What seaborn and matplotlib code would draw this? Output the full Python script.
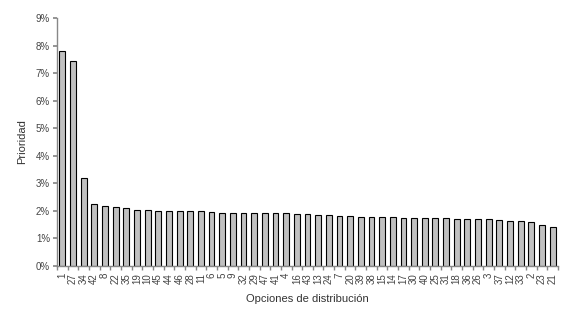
import matplotlib
matplotlib.use("Agg")
import matplotlib.pyplot as plt
import seaborn as sns
import pandas as pd
import numpy as np
from matplotlib.ticker import PercentFormatter, MultipleLocator, FixedLocator

categories = ["1","27","34","42","8","22","35","19","10","45","44","46","28","11","6","5","9","32","29","47","41","4",
              "16","43","13","24","7","20","39","38","15","14","17","30","40","25","31","18","36","26","3","37","12",
              "33","2","23","21"]
values = [7.82,7.43,3.18,2.25,2.19,2.13,2.10,2.05,2.03,2.01,2.00,2.00,1.99,1.98,1.97,1.93,1.93,1.92,1.92,1.91,1.91,1.91,
          1.88,1.87,1.86,1.85,1.83,1.80,1.79,1.79,1.78,1.78,1.76,1.74,1.74,1.73,1.73,1.72,1.71,1.69,1.69,1.68,1.65,
          1.63,1.59,1.47,1.43]

df = pd.DataFrame({"opcion": categories, "prioridad": values})

sns.set_theme(style="white")
plt.rcParams["font.family"] = ["Liberation Sans", "DejaVu Sans"]

fig = plt.figure(figsize=(5.63, 3.10), dpi=100)
ax = fig.add_axes([57/563, 1-266/310, (558-57)/563, (266-18)/310])

sns.barplot(data=df, x="opcion", y="prioridad", order=categories, color="#c0c0c0",
            edgecolor="black", linewidth=0.8, width=0.55, saturation=1, ax=ax)

n = len(categories)
ax.set_ylim(0, 9)
ax.set_xlim(-0.5, n - 0.5)
ax.yaxis.set_major_locator(MultipleLocator(1))
ax.yaxis.set_major_formatter(PercentFormatter(decimals=0))
ax.xaxis.set_minor_locator(FixedLocator(np.arange(-0.5, n, 1.0)))
ax.set_ylabel("Prioridad", fontsize=8, color="#333333", labelpad=6)
ax.set_xlabel("Opciones de distribución", fontsize=8, color="#333333", labelpad=7)
ax.tick_params(axis="y", labelsize=7, length=3, direction="out", left=True, colors="#444444", pad=2)
ax.tick_params(axis="x", which="major", labelsize=7, length=0, bottom=True, colors="#444444", rotation=90, pad=5)
ax.tick_params(axis="x", which="minor", length=3, direction="out", bottom=True, color="#888888")
for s in ["top", "right"]:
    ax.spines[s].set_visible(False)
for s in ["left", "bottom"]:
    ax.spines[s].set_color("#888888")
    ax.spines[s].set_linewidth(1.0)
ax.tick_params(axis="y", color="#888888")

fig.savefig("out.png", dpi=100)
